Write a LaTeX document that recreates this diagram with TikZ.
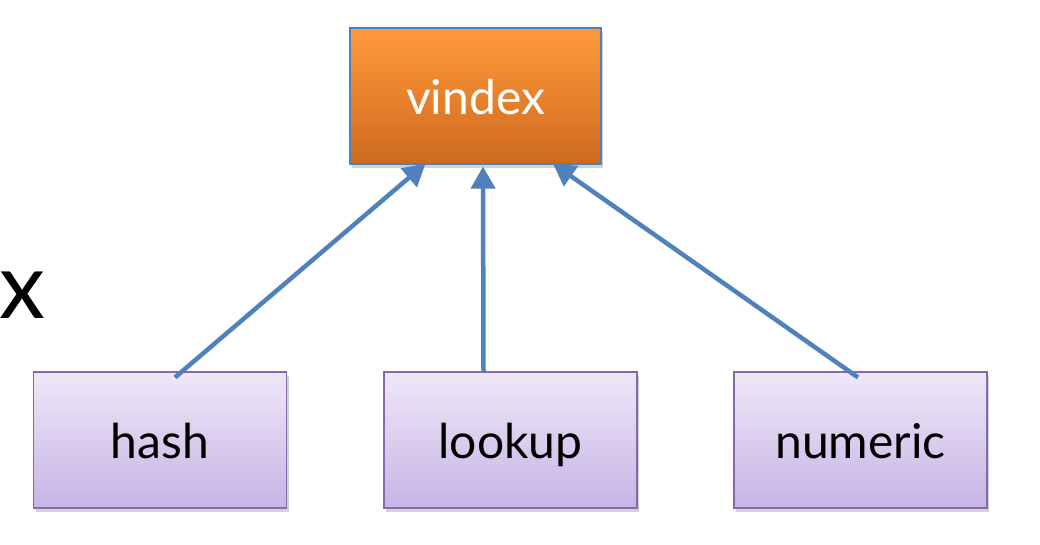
\documentclass[tikz,border=0pt]{standalone}
\usepackage{fontspec}
\setmainfont{Lato}
\usetikzlibrary{shadows,arrows.meta}
\definecolor{arrowblue}{HTML}{4F81BD}
\definecolor{orangetop}{HTML}{FF9A3C}
\definecolor{orangebot}{HTML}{CE6A1E}
\definecolor{lilactop}{HTML}{EEE8F8}
\definecolor{lilacbot}{HTML}{C7B3E5}
\definecolor{lilacline}{HTML}{8767AE}
\tikzset{
  boxtext/.style={font=\fontsize{48}{54}\selectfont, text height=40pt, text depth=4pt},
  parentbox/.style={boxtext, draw=arrowblue, line width=1.2pt, minimum width=251pt, minimum height=136pt,
    top color=orangetop, bottom color=orangebot, text=white,
    drop shadow={opacity=0.35, shadow xshift=2pt, shadow yshift=-4pt}},
  childbox/.style={boxtext, draw=lilacline, line width=1.2pt, minimum width=253pt, minimum height=136pt,
    top color=lilactop, bottom color=lilacbot, text=black,
    drop shadow={opacity=0.35, shadow xshift=2pt, shadow yshift=-4pt}},
  link/.style={draw=arrowblue, line width=4.5pt, -{Triangle[length=22pt,width=24pt]}}
}
\begin{document}
\begin{tikzpicture}[x=1pt,y=-1pt]
\useasboundingbox (0,0) rectangle (1040,544);
\node[anchor=base east, font=\fontsize{92}{100}\selectfont, inner sep=0pt] (title) at (45,318) {ex};
\node[parentbox] (vindex) at (475.5,96) {vindex};
\node[childbox] (hash) at (160,440) {hash};
\node[childbox] (lookup) at (510.5,440) {lookup};
\node[childbox] (numeric) at (860.5,440) {numeric};
\draw[link] ([xshift=15pt,yshift=-6pt]hash.north) -- ([xshift=-50pt,yshift=1pt]vindex.south);
\draw[link] ([xshift=-27pt,yshift=-1pt]lookup.north) -- ([xshift=7.5pt,yshift=-2pt]vindex.south);
\draw[link] ([xshift=-2.5pt,yshift=-6pt]numeric.north) -- ([xshift=77.5pt,yshift=1pt]vindex.south);
\end{tikzpicture}
\end{document}
